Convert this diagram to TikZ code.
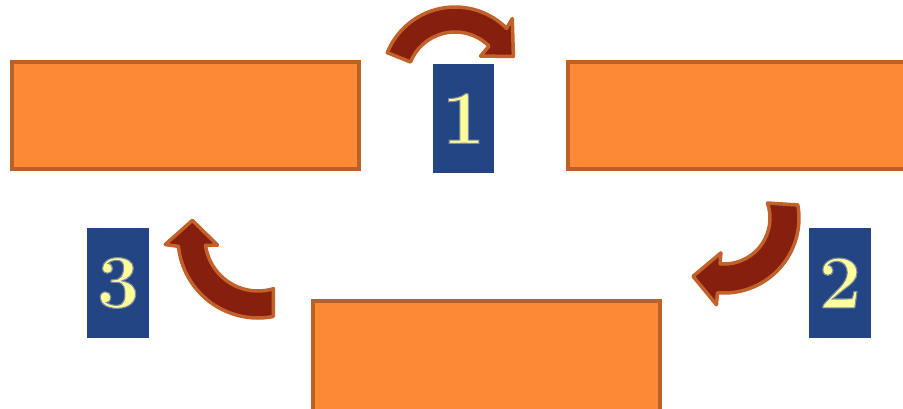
\documentclass[tikz,border=0pt]{standalone}
\usepackage{fontspec}
\definecolor{boxfill}{HTML}{FD8836}
\definecolor{boxline}{HTML}{BA6128}
\definecolor{numblue}{HTML}{234583}
\definecolor{digityellow}{HTML}{FFFF99}
\definecolor{arrowfill}{HTML}{861F0D}
\definecolor{arrowline}{HTML}{C2622A}
\newcommand{\digitfont}{\fontsize{76}{76}\selectfont\bfseries}
% yellow digit with a grey outline (fill + stroke text rendering)
\newcommand{\glowdigit}[1]{\special{pdf:code 2 Tr 1.1 w 0.50 0.54 0.62 RG}#1\special{pdf:code 0 Tr}}
\tikzset{
  orangebox/.style={draw=boxline, fill=boxfill, line width=3.5pt, inner sep=0pt},
  numbox/.style={fill=numblue, inner sep=0pt, text=digityellow, font=\digitfont},
  curvedarrow/.style={draw=arrowline, fill=arrowfill, line width=3.5pt, line join=round}
}
\begin{document}
\begin{tikzpicture}[x=1pt,y=1pt]
\useasboundingbox (0,0) rectangle (903,408);
\clip (0,0) rectangle (903,408);
% orange boxes
\node[orangebox, minimum width=347pt, minimum height=107pt] (boxA) at (185.5,292.5) {};
\node[orangebox, minimum width=342pt, minimum height=107pt] (boxB) at (739,292.5) {};
\node[orangebox, minimum width=347pt, minimum height=114pt] (boxC) at (486.5,50) {};
% number boxes
\node[numbox, minimum width=61pt, minimum height=109pt] (n1) at (463.5,289.5) {\glowdigit{1}};
\node[numbox, minimum width=62pt, minimum height=110pt] (n2) at (840,125) {\glowdigit{2}};
\node[numbox, minimum width=62pt, minimum height=110pt] (n3) at (118,125) {\glowdigit{3}};
% curved arrows
\draw[curvedarrow, shift={(455,328)}]
  (158:73) arc[start angle=158, end angle=45, radius=73]
  -- (47:84) -- (22:63) -- (43:35) -- (45:48)
  arc[start angle=45, end angle=158, radius=48] -- cycle;
\draw[curvedarrow, shift={(724,190)}]
  (10:75) arc[start angle=10, end angle=-95, radius=75]
  -- (-95:87) -- (-118:66) -- (-95:35) -- (-95:46)
  arc[start angle=-95, end angle=19, radius=46] -- cycle;
\draw[curvedarrow, shift={(258,170)}]
  (-79:80) arc[start angle=-79, end angle=-174, radius=80]
  -- (-176:93) -- (165:68) -- (-170:41) -- (-172:53)
  arc[start angle=-172, end angle=-73, radius=53] -- cycle;
\end{tikzpicture}
\end{document}
